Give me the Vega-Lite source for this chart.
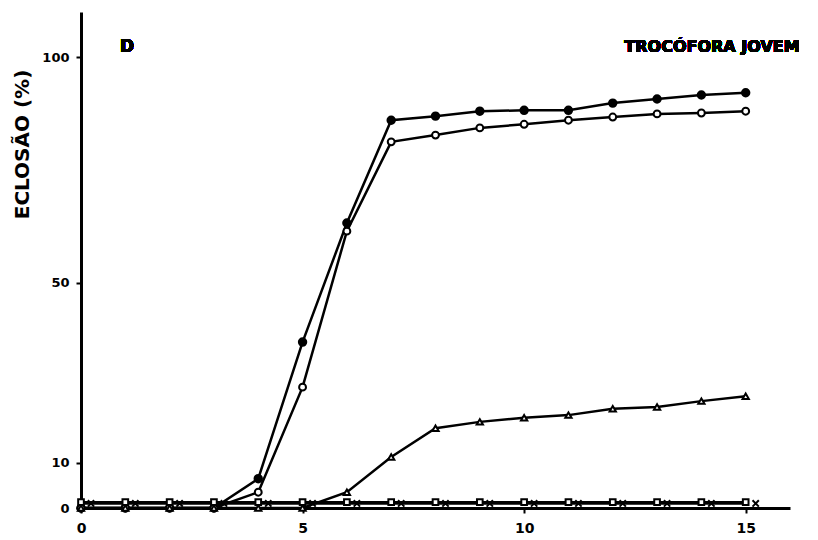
{
  "$schema": "https://vega.github.io/schema/vega-lite/v6.json",
  "autosize": "none",
  "padding": {"left": 81, "top": 12, "right": 28, "bottom": 32},
  "width": 709,
  "height": 496,
  "background": "white",
  "config": {
    "view": {"stroke": null},
    "axis": {
      "domainColor": "black", "domainWidth": 3, "tickColor": "black", "tickWidth": 2,
      "labelFont": "DejaVu Sans", "labelFontWeight": "bold", "labelColor": "black",
      "titleFont": "DejaVu Sans", "titleFontWeight": "bold", "titleColor": "black",
      "grid": false
    }
  },
  "data": {
    "values": [
      {"day": 0, "s": "a", "v": 0}, {"day": 1, "s": "a", "v": 0}, {"day": 2, "s": "a", "v": 0}, {"day": 3, "s": "a", "v": 0},
      {"day": 4, "s": "a", "v": 6.5}, {"day": 5, "s": "a", "v": 36.8}, {"day": 6, "s": "a", "v": 63.2}, {"day": 7, "s": "a", "v": 86.0},
      {"day": 8, "s": "a", "v": 86.9}, {"day": 9, "s": "a", "v": 88.0}, {"day": 10, "s": "a", "v": 88.2}, {"day": 11, "s": "a", "v": 88.2},
      {"day": 12, "s": "a", "v": 89.8}, {"day": 13, "s": "a", "v": 90.7}, {"day": 14, "s": "a", "v": 91.6}, {"day": 15, "s": "a", "v": 92.1},
      {"day": 0, "s": "b", "v": 0}, {"day": 1, "s": "b", "v": 0}, {"day": 2, "s": "b", "v": 0}, {"day": 3, "s": "b", "v": 0},
      {"day": 4, "s": "b", "v": 3.5}, {"day": 5, "s": "b", "v": 26.8}, {"day": 6, "s": "b", "v": 61.4}, {"day": 7, "s": "b", "v": 81.2},
      {"day": 8, "s": "b", "v": 82.7}, {"day": 9, "s": "b", "v": 84.3}, {"day": 10, "s": "b", "v": 85.1}, {"day": 11, "s": "b", "v": 86.0},
      {"day": 12, "s": "b", "v": 86.7}, {"day": 13, "s": "b", "v": 87.4}, {"day": 14, "s": "b", "v": 87.6}, {"day": 15, "s": "b", "v": 88.0},
      {"day": 0, "s": "c", "v": 0}, {"day": 1, "s": "c", "v": 0}, {"day": 2, "s": "c", "v": 0}, {"day": 3, "s": "c", "v": 0},
      {"day": 4, "s": "c", "v": 0}, {"day": 5, "s": "c", "v": 0}, {"day": 6, "s": "c", "v": 3.5}, {"day": 7, "s": "c", "v": 11.3},
      {"day": 8, "s": "c", "v": 17.7}, {"day": 9, "s": "c", "v": 19.1}, {"day": 10, "s": "c", "v": 20.0}, {"day": 11, "s": "c", "v": 20.6},
      {"day": 12, "s": "c", "v": 22.0}, {"day": 13, "s": "c", "v": 22.4}, {"day": 14, "s": "c", "v": 23.7}, {"day": 15, "s": "c", "v": 24.8},
      {"day": 0, "s": "d", "v": 1.3}, {"day": 1, "s": "d", "v": 1.3}, {"day": 2, "s": "d", "v": 1.3}, {"day": 3, "s": "d", "v": 1.3},
      {"day": 4, "s": "d", "v": 1.3}, {"day": 5, "s": "d", "v": 1.3}, {"day": 6, "s": "d", "v": 1.3}, {"day": 7, "s": "d", "v": 1.3},
      {"day": 8, "s": "d", "v": 1.3}, {"day": 9, "s": "d", "v": 1.3}, {"day": 10, "s": "d", "v": 1.3}, {"day": 11, "s": "d", "v": 1.3},
      {"day": 12, "s": "d", "v": 1.3}, {"day": 13, "s": "d", "v": 1.3}, {"day": 14, "s": "d", "v": 1.3}, {"day": 15, "s": "d", "v": 1.3},
      {"day": 0, "s": "e", "v": 1.0}, {"day": 1, "s": "e", "v": 1.0}, {"day": 2, "s": "e", "v": 1.0}, {"day": 3, "s": "e", "v": 1.0},
      {"day": 4, "s": "e", "v": 1.0}, {"day": 5, "s": "e", "v": 1.0}, {"day": 6, "s": "e", "v": 1.0}, {"day": 7, "s": "e", "v": 1.0},
      {"day": 8, "s": "e", "v": 1.0}, {"day": 9, "s": "e", "v": 1.0}, {"day": 10, "s": "e", "v": 1.0}, {"day": 11, "s": "e", "v": 1.0},
      {"day": 12, "s": "e", "v": 1.0}, {"day": 13, "s": "e", "v": 1.0}, {"day": 14, "s": "e", "v": 1.0}, {"day": 15, "s": "e", "v": 1.0}
    ]
  },
  "encoding": {
    "x": {
      "field": "day", "type": "quantitative",
      "scale": {"domain": [0, 16], "nice": false},
      "axis": {"values": [0, 5, 10, 15], "title": null, "labelFontSize": 14, "tickSize": 5, "labelPadding": 8, "labelFlush": false}
    },
    "y": {
      "field": "v", "type": "quantitative",
      "scale": {"domain": [0, 110], "nice": false},
      "axis": {
        "values": [0, 10, 50, 100], "title": "ECLOSÃO    (%)", "titleFontSize": 20,
        "titleX": -59, "titleY": 132, "titleAngle": -90, "titleAlign": "center", "titleBaseline": "middle",
        "labelFontSize": 13, "tickSize": 5, "labelPadding": 7
      }
    }
  },
  "layer": [
    {
      "mark": {"type": "line", "color": "black", "strokeWidth": 2.5},
      "encoding": {"detail": {"field": "s", "type": "nominal"}}
    },
    {
      "transform": [{"filter": "datum.s != 'e'"}],
      "mark": {"type": "point", "stroke": "black", "strokeWidth": 2, "opacity": 1, "filled": false},
      "encoding": {
        "shape": {
          "field": "s", "type": "nominal", "legend": null,
          "scale": {"domain": ["a", "b", "c", "d"], "range": ["circle", "circle", "triangle-up", "square"]}
        },
        "fill": {
          "field": "s", "type": "nominal", "legend": null,
          "scale": {"domain": ["a", "b", "c", "d"], "range": ["black", "white", "white", "white"]}
        },
        "size": {
          "field": "s", "type": "nominal", "legend": null,
          "scale": {"domain": ["a", "b", "c", "d"], "range": [55, 32, 32, 45]}
        }
      }
    },
    {
      "transform": [{"filter": "datum.s == 'e'"}],
      "mark": {"type": "point", "shape": "M-1,-1L1,1M-1,1L1,-1", "size": 40, "stroke": "black", "strokeWidth": 2, "opacity": 1, "filled": false},
      "encoding": {"xOffset": {"value": 10}}
    },
    {
      "mark": {"type": "text", "font": "DejaVu Sans", "fontWeight": "bold", "fontSize": 17, "align": "center", "baseline": "middle", "color": "black"},
      "encoding": {"x": {"datum": 1.04}, "y": {"datum": 102.2}, "text": {"value": "D"}}
    },
    {
      "mark": {"type": "text", "font": "DejaVu Sans", "fontWeight": "bold", "fontSize": 16, "align": "center", "baseline": "middle", "color": "black"},
      "encoding": {"x": {"datum": 14.24}, "y": {"datum": 102.2}, "text": {"value": "TROCÓFORA JOVEM"}}
    }
  ]
}
